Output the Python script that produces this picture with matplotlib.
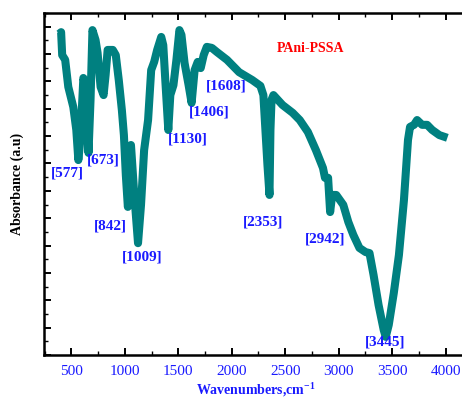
import matplotlib
matplotlib.use("Agg")
import matplotlib.pyplot as plt
from matplotlib.ticker import MultipleLocator, NullFormatter

plt.rcParams["font.family"] = ["Liberation Serif", "DejaVu Serif"]
plt.rcParams["mathtext.fontset"] = "custom"
plt.rcParams["mathtext.rm"] = "Liberation Serif:bold"
plt.rcParams["mathtext.bf"] = "Liberation Serif:bold"

wavenumber = [387, 405, 415, 443, 472, 519, 547, 566, 585, 613, 632, 661, 680, 698, 727, 746,
              774, 802, 821, 840, 888, 916, 944, 973, 992, 1010, 1029, 1039, 1058, 1086, 1124,
              1152, 1181, 1218, 1247, 1275, 1303, 1341, 1360, 1379, 1407, 1426, 1455, 1483,
              1511, 1530, 1559, 1597, 1625, 1653, 1682, 1710, 1738, 1767, 1814, 1861, 1956,
              2069, 2192, 2268, 2296, 2315, 2334, 2353, 2362, 2372, 2390, 2475, 2570, 2636,
              2712, 2787, 2853, 2872, 2901, 2920, 2939, 2977, 3043, 3090, 3137, 3194, 3251,
              3288, 3326, 3373, 3421, 3440, 3468, 3515, 3563, 3610, 3648, 3667, 3704, 3733,
              3780, 3827, 3874, 3941, 4016]
absorbance = [93.9, 94.4, 87.7, 86.3, 78.4, 72.5, 65.8, 57.0, 62.9, 81.0, 78.9, 59.1, 74.6,
              95.0, 92.1, 88.3, 78.4, 76.0, 81.9, 89.2, 89.2, 87.7, 80.4, 71.6, 64.3, 52.6,
              43.3, 45.3, 61.4, 48.2, 32.7, 43.9, 59.9, 68.7, 83.3, 85.7, 89.2, 93.0, 90.6,
              80.4, 65.8, 76.0, 78.9, 86.3, 95.0, 93.6, 85.4, 78.9, 73.7, 83.3, 85.7, 83.9,
              87.7, 90.1, 89.8, 88.6, 86.3, 82.7, 80.4, 78.7, 76.0, 65.8, 55.6, 46.8, 65.8,
              74.6, 76.0, 73.1, 70.8, 68.7, 65.2, 59.9, 54.7, 51.8, 51.8, 41.8, 46.8, 46.8,
              43.9, 38.9, 35.1, 31.3, 30.1, 29.8, 23.4, 14.6, 7.3, 5.3, 8.8, 18.1, 29.2, 45.3,
              62.9, 66.7, 67.3, 68.7, 67.3, 67.3, 65.8, 64.3, 63.5]

peak_labels = ["[577]", "[673]", "[842]", "[1009]", "[1130]", "[1406]", "[1608]",
               "[2353]", "[2942]", "[3445]"]
peak_label_x = [467, 800, 866, 1162, 1587, 1786, 1947, 2297, 2874, 3430]
peak_label_y = [53.2, 57.0, 37.7, 28.7, 63.2, 71.1, 78.7, 38.9, 34.0, 3.8]

teal = "#008080"
label_blue = "#1a1aff"

fig = plt.figure(figsize=(4.62, 4.03), dpi=100)
ax = fig.add_axes([44/462, 48/403, 1 - 44/462 + 0.01, 342/403])

ax.plot(wavenumber, absorbance, color=teal, lw=5.8, solid_joinstyle="round",
        solid_capstyle="butt")

ax.set_xlim(245, 4196)
ax.set_ylim(0, 100)

for s in ["left", "bottom", "top"]:
    ax.spines[s].set_linewidth(1.8)
ax.spines["right"].set_visible(False)

ax.xaxis.set_major_locator(MultipleLocator(500))
ax.xaxis.set_minor_locator(MultipleLocator(250))
ax.yaxis.set_major_locator(MultipleLocator(8))
ax.yaxis.set_minor_locator(MultipleLocator(4))
ax.yaxis.set_major_formatter(NullFormatter())
ax.tick_params(axis="both", which="major", direction="in", length=5, width=1.4,
               top=True, right=False)
ax.tick_params(axis="both", which="minor", direction="in", length=3, width=1.0,
               top=True, right=False)
ax.tick_params(axis="x", labelsize=11, labelcolor=label_blue, pad=7)

ax.set_xlabel("Wavenumbers,cm$^{-1}$", fontsize=10, fontweight="bold",
              color=label_blue, labelpad=2)
ax.set_ylabel("Absorbance (a.u)", fontsize=10, fontweight="bold", color="black",
              labelpad=11)

for t, x, y in zip(peak_labels, peak_label_x, peak_label_y):
    ax.text(x, y, t, color=label_blue, fontsize=11, fontweight="bold",
            ha="center", va="center")

ax.text(2740, 89.5, "PAni-PSSA", color="red", fontsize=10, fontweight="bold",
        ha="center", va="center")

fig.savefig("out.png", dpi=100)
